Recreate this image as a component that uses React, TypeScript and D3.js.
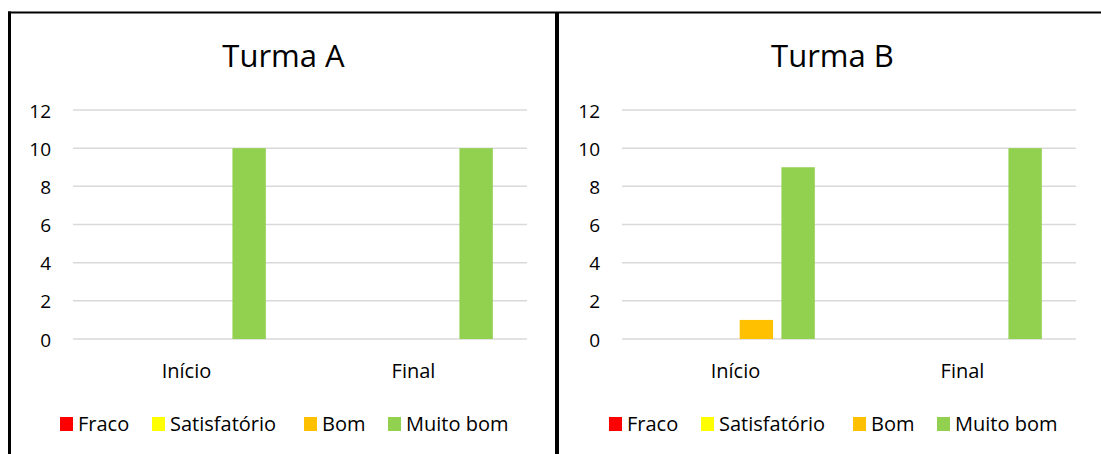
import React from "react";
import * as d3 from "d3";

const categories = ["Início", "Final"];
const seriesNames = ["Fraco", "Satisfatório", "Bom", "Muito bom"];
const seriesColors = ["#ff0000", "#ffff00", "#ffc000", "#92d050"];
const yTicks = [0, 2, 4, 6, 8, 10, 12];
const turmaA = [
  [0, 0],
  [0, 0],
  [0, 0],
  [10, 10],
];
const turmaB = [
  [0, 0],
  [0, 0],
  [1, 0],
  [9, 10],
];
const panels = [
  { title: "Turma A", values: turmaA },
  { title: "Turma B", values: turmaB },
];

const FONT = "'Open Sans', sans-serif";

function Panel({ title, values, dx }: { title: string; values: number[][]; dx: number }) {
  const plotL = 73, plotR = 527, plotT = 110, plotB = 339;
  const x0 = d3.scaleBand().domain(categories).range([plotL, plotR]).paddingInner(0).paddingOuter(0);
  const x1 = d3.scaleBand().domain(seriesNames).range([30, x0.bandwidth() - 30]).paddingInner(0.2).paddingOuter(0.1);
  const y = d3.scaleLinear().domain([0, 12]).range([plotB, plotT]);
  const legendX = [60, 152, 304, 388];
  return (
    <g transform={`translate(${dx},0)`}>
      <text x={283.5} y={66.5} textAnchor="middle" fontSize={31} fill="#000" fontFamily={FONT}>{title}</text>
      {yTicks.map((t) => (
        <g key={t}>
          <line x1={plotL} x2={plotR} y1={y(t)} y2={y(t)} stroke="#d9d9d9" strokeWidth={1.5} />
          <text x={51} y={y(t) + 7.5} textAnchor="end" fontSize={19} fill="#000" fontFamily={FONT}>{t}</text>
        </g>
      ))}
      {categories.map((c, ci) => (
        <g key={c}>
          {seriesNames.map((s, si) => {
            const v = values[si][ci];
            if (!v) return null;
            return (
              <rect key={s} x={(x0(c) as number) + (x1(s) as number)} width={x1.bandwidth()} y={y(v)} height={y(0) - y(v)} fill={seriesColors[si]} />
            );
          })}
          <text x={(x0(c) as number) + x0.bandwidth() / 2} y={377.5} textAnchor="middle" fontSize={20} fill="#000" fontFamily={FONT}>{c}</text>
        </g>
      ))}
      {seriesNames.map((s, si) => (
        <g key={s} transform={`translate(${legendX[si]},0)`}>
          <rect x={0} y={417} width={13} height={14} fill={seriesColors[si]} />
          <text x={18} y={430.5} fontSize={20} fill="#000" fontFamily={FONT}>{s}</text>
        </g>
      ))}
    </g>
  );
}

export default function App() {
  return (
    <svg width={1101} height={454} style={{ position: "absolute", left: 0, top: 0, background: "#fff" }}>
      <rect x={0} y={0} width={1101} height={454} fill="#fff" />
      {panels.map((p, i) => (
        <Panel key={p.title} title={p.title} values={p.values} dx={i * 549} />
      ))}
      <line x1={9.5} x2={9.5} y1={11.5} y2={454} stroke="#000" strokeWidth={3} />
      <line x1={8} x2={1101} y1={12.5} y2={12.5} stroke="#000" strokeWidth={2} />
      <line x1={557} x2={557} y1={12} y2={454} stroke="#000" strokeWidth={4} />
    </svg>
  );
}
